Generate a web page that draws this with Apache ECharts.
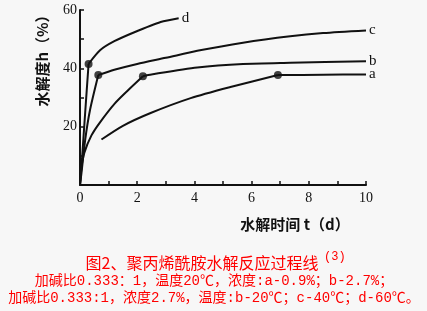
<!DOCTYPE html>
<html><head><meta charset="utf-8">
<script src="https://cdn.jsdelivr.net/npm/echarts@6/dist/echarts.min.js"></script>
<style>html,body{margin:0;padding:0;background:#f7f7f7}#c{width:427px;height:311px}</style>
</head><body><div id="c"></div>
<script>
// t (d), h (%) ; each curve split at its marked point
const curveAPre  = [[0.75,15.6],[1.5,20.3],[2.47,24.7],[3.87,29.8],[5.26,33.6],[6.92,37.7]];
const curveAPost = [[6.92,37.7],[8.5,37.8],[10,37.9]];
const curveBPre  = [[0,0],[0.05,6],[0.15,11],[0.4,17],[0.7,21.5],[1.22,28],[1.68,32.5],[2.2,37.3]];
const curveBPost = [[2.2,37.3],[2.5,37.9],[4.1,40.3],[5.7,41.5],[7.35,41.9],[10,42.4]];
const curveCPre  = [[0,0],[0.05,4],[0.18,15.4],[0.35,25.7],[0.64,37.7]];
const curveCPost = [[0.64,37.7],[1.2,39.5],[2.0,41.5],[3.0,43.6],[4.1,46],[5.7,48.8],[7.35,51],[8.5,52.1],[10,53]];
const curveDPre  = [[0,0],[0.06,7.5],[0.18,24.7],[0.3,41.5]];
const curveDPost = [[0.3,41.5],[0.7,46.2],[1.2,49.3],[1.88,52.3],[2.82,55.9],[3.45,57.2]];
const markers = [[6.92,37.7],[2.2,37.3],[0.64,37.7],[0.3,41.5]];
const curveNames = ['a','b','c','d'];
const xTicks = [0,2,4,6,8,10];
const yTicks = [20,40,60];
const yName = '水解度h（%）';
const xName = '水解时间 t（d）';
const caption1 = '图2、聚丙烯酰胺水解反应过程线';
const caption1Sup = '(3)';
const caption2 = '加碱比0.333：1，温度20℃，浓度:a-0.9%；b-2.7%；';
const caption3 = '加碱比0.333:1，浓度2.7%，温度:b-20℃；c-40℃；d-60℃。';

const pre = [curveAPre, curveBPre, curveCPre, curveDPre];
const post = [curveAPost, curveBPost, curveCPost, curveDPost];
const chart = echarts.init(document.getElementById('c'));
const serif = '"Liberation Serif","DejaVu Serif",serif';
const cjk = '"Liberation Mono","Noto Sans CJK SC",monospace';
const series = [];
curveNames.forEach((n, i) => {
  series.push({type: 'line', name: n + '0', data: pre[i], smooth: 0.25, symbol: 'none',
    lineStyle: {color: '#111', width: 2}, silent: true});
  series.push({type: 'line', name: n, data: post[i], smooth: 0.25, symbol: 'none',
    lineStyle: {color: '#111', width: 2}, silent: true,
    endLabel: {show: true, formatter: '{a}', color: '#111', fontFamily: serif, fontSize: 15, distance: 3}});
});
series.push({type: 'scatter', data: markers, symbol: 'circle', symbolSize: 8,
  itemStyle: {color: '#111'}, silent: true});
chart.setOption({
  backgroundColor: '#f7f7f7',
  animation: false,
  grid: {left: 80, right: 61, top: 10, bottom: 126},
  xAxis: {
    type: 'value', min: 0, max: 10, interval: 1,
    axisLine: {lineStyle: {color: '#111', width: 2}},
    axisTick: {show: true, inside: true, length: 4, lineStyle: {color: '#111', width: 1.5}},
    splitLine: {show: false},
    axisLabel: {color: '#111', fontFamily: serif, fontSize: 14, margin: 6,
      formatter: v => xTicks.includes(v) ? String(v) : ''}
  },
  yAxis: {
    type: 'value', min: 0, max: 60, interval: 10,
    axisLine: {show: true, lineStyle: {color: '#111', width: 2}},
    axisTick: {show: true, inside: true, length: 4, lineStyle: {color: '#111', width: 1.5}},
    splitLine: {show: false},
    axisLabel: {color: '#111', fontFamily: serif, fontSize: 14, margin: 3,
      formatter: v => yTicks.includes(v) ? String(v) : ''}
  },
  series: series,
  graphic: [
    {type: 'text', x: 42, y: 57, rotation: Math.PI / 2,
      style: {text: yName, fill: '#111', font: 'bold 15px "Noto Sans CJK SC"', align: 'center', verticalAlign: 'middle'}},
    {type: 'text', x: 295, y: 224,
      style: {text: xName, fill: '#111', font: 'bold 15px "Noto Sans CJK SC"', align: 'center', verticalAlign: 'middle'}},
    {type: 'text', x: 202, y: 263,
      style: {text: caption1, fill: '#ff0000', font: '16px "Noto Sans CJK SC"', align: 'center', verticalAlign: 'middle'}},
    {type: 'text', x: 324, y: 257,
      style: {text: caption1Sup, fill: '#ff0000', font: '12px "Liberation Mono"', align: 'left', verticalAlign: 'middle'}},
    {type: 'text', x: 214, y: 281,
      style: {text: caption2, fill: '#ff0000', font: '14px ' + cjk, align: 'center', verticalAlign: 'middle'}},
    {type: 'text', x: 214, y: 298,
      style: {text: caption3, fill: '#ff0000', font: '14px ' + cjk, align: 'center', verticalAlign: 'middle'}}
  ]
});
</script></body></html>
